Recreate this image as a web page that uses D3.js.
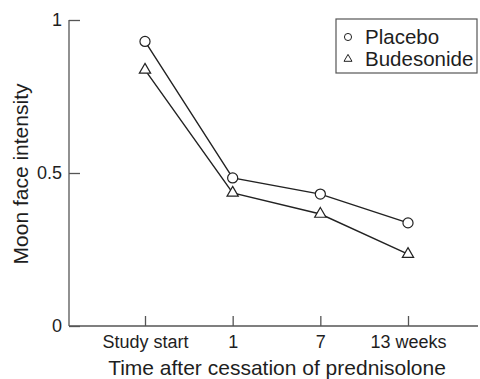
<!DOCTYPE html>
<html>
<head>
<meta charset="utf-8">
<script src="https://cdn.jsdelivr.net/npm/d3@7"></script>
<style>
  body { margin: 0; background: #fff; }
  svg text { font-family: "Liberation Sans", Arial, sans-serif; fill: #1e1e1e; }
</style>
</head>
<body>
<div id="chart"></div>
<script>
// data
const categories = ["Study start", "1", "7", "13 weeks"];
const placebo = [0.93, 0.484, 0.431, 0.337];
const budesonide = [0.837, 0.435, 0.366, 0.235];
const yTicks = [0, 0.5, 1];

const width = 480, height = 379;
const axisLeftX = 69, axisRightX = 478;
const plotTop = 20, plotBottom = 326;

const svg = d3.select("#chart").append("svg")
    .attr("width", width)
    .attr("height", height);

const x = d3.scalePoint()
    .domain(categories)
    .range([145, 408]);

const y = d3.scaleLinear()
    .domain([0, 1])
    .range([plotBottom, plotTop]);

// axes lines
svg.append("line")
    .attr("x1", axisLeftX).attr("x2", axisLeftX)
    .attr("y1", y(1)).attr("y2", y(0))
    .attr("stroke", "#555").attr("stroke-width", 1.3);
svg.append("line")
    .attr("x1", axisLeftX).attr("x2", axisRightX)
    .attr("y1", y(0)).attr("y2", y(0))
    .attr("stroke", "#555").attr("stroke-width", 1.3);

// y axis ticks
const yAxis = svg.append("g")
    .attr("transform", `translate(${axisLeftX},0)`)
    .call(d3.axisLeft(y).tickValues(yTicks).tickFormat(d => String(d))
        .tickSizeInner(-11).tickSizeOuter(0).tickPadding(7));
yAxis.select(".domain").remove();
yAxis.selectAll("line").attr("stroke", "#555").attr("stroke-width", 1.3);
yAxis.selectAll("text").style("font-size", "18px").attr("fill", "#1e1e1e");

// x axis ticks
const xAxis = svg.append("g")
    .attr("transform", `translate(0,${plotBottom})`)
    .call(d3.axisBottom(x).tickSizeInner(-10).tickSizeOuter(0).tickPadding(9));
xAxis.select(".domain").remove();
xAxis.selectAll("line").attr("stroke", "#555").attr("stroke-width", 1.3);
xAxis.selectAll("text").style("font-size", "18px").attr("fill", "#1e1e1e");

// axis titles
svg.append("text")
    .attr("x", 277).attr("y", 375)
    .attr("text-anchor", "middle")
    .style("font-size", "21px")
    .text("Time after cessation of prednisolone");

svg.append("text")
    .attr("transform", "translate(28,174) rotate(-90)")
    .attr("text-anchor", "middle")
    .style("font-size", "21px")
    .text("Moon face intensity");

const line = d3.line()
    .x((d, i) => x(categories[i]))
    .y(d => y(d));

const series = [
    {name: "Placebo", values: placebo, symbol: d3.symbolCircle, size: 80},
    {name: "Budesonide", values: budesonide, symbol: d3.symbolTriangle, size: 55}
];

series.forEach(s => {
    svg.append("path")
        .datum(s.values)
        .attr("d", line)
        .attr("fill", "none")
        .attr("stroke", "#222")
        .attr("stroke-width", 1.4);

    svg.selectAll(null)
        .data(s.values)
        .enter()
        .append("path")
        .attr("d", d3.symbol().type(s.symbol).size(s.size))
        .attr("transform", (d, i) => `translate(${x(categories[i])},${y(d)})`)
        .attr("fill", "#fff")
        .attr("stroke", "#222")
        .attr("stroke-width", 1.2);
});

// legend
const legend = svg.append("g");
legend.append("rect")
    .attr("x", 336).attr("y", 19)
    .attr("width", 141).attr("height", 54)
    .attr("fill", "#fff")
    .attr("stroke", "#555")
    .attr("stroke-width", 1.2);

series.forEach((s, i) => {
    const cy = 37 + i * 22;
    legend.append("path")
        .attr("d", d3.symbol().type(s.symbol).size(s.size * 0.5))
        .attr("transform", `translate(348,${cy})`)
        .attr("fill", "#fff")
        .attr("stroke", "#222")
        .attr("stroke-width", 1);
    legend.append("text")
        .attr("x", 365).attr("y", cy + 6.5)
        .style("font-size", "20.5px")
        .text(s.name);
});
</script>
</body>
</html>
